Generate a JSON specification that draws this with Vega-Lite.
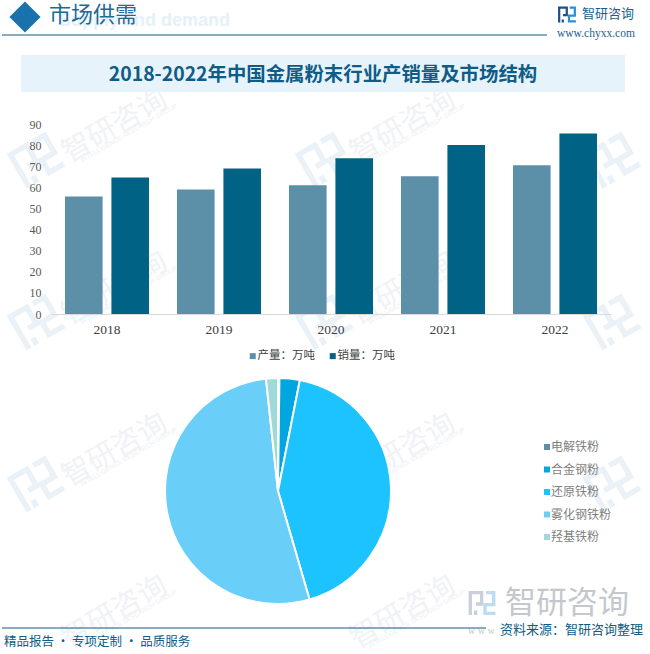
{
  "$schema": "https://vega.github.io/schema/vega-lite/v6.json",
  "background": "white",
  "padding": 0,
  "bounds": "flush",
  "spacing": 0,
  "config": {
    "view": {"stroke": null},
    "font": "Noto Sans CJK SC"
  },
  "datasets": {
    "watermark": [
      {"col": 0, "row": 0}, {"col": 1, "row": 0}, {"col": 2, "row": 0},
      {"col": 0, "row": 1}, {"col": 1, "row": 1}, {"col": 2, "row": 1},
      {"col": 0, "row": 2}, {"col": 1, "row": 2}, {"col": 2, "row": 2}
    ],
    "watermarkText": [
      {"col": 0, "row": 0}, {"col": 1, "row": 0},
      {"col": 0, "row": 1}, {"col": 1, "row": 1},
      {"col": 0, "row": 2}, {"col": 1, "row": 2},
      {"col": 0, "row": 3}, {"col": 1, "row": 3}
    ]
  },
  "vconcat": [
    {
      "width": 650,
      "height": 124,
      "data": {"values": [{"title": "2018-2022年中国金属粉末行业产销量及市场结构"}]},
      "layer": [
        {
          "data": {"name": "watermark"},
          "mark": {"type": "point", "filled": true, "opacity": 1, "color": "#eaf2f8", "angle": -30, "size": 2000, "shape": "M-1 -0.9H0.1V0.2H-0.45V-0.05H-0.15V-0.65H-0.75V0.9H-1ZM-0.6 0.55H-0.35V0.9H-0.6ZM0.3 -0.9H1V0.25H0.35V0.65H1V0.9H0.1V0H0.75V-0.65H0.3Z"},
          "encoding": {
            "x": {"field": "col", "type": "quantitative", "scale": {"domain": [0, 2], "range": [36, 612]}, "axis": null},
            "y": {"field": "row", "type": "quantitative", "scale": {"domain": [0, 2], "range": [160, 484]}, "axis": null}
          }
        },
        {
          "data": {"name": "watermarkText"},
          "mark": {"type": "text", "text": "智研咨询", "fontSize": 29, "angle": -30, "dx": 85, "dy": 10, "color": "#f0f2f6"},
          "encoding": {
            "x": {"field": "col", "type": "quantitative", "scale": {"domain": [0, 2], "range": [36, 612]}, "axis": null},
            "y": {"field": "row", "type": "quantitative", "scale": {"domain": [0, 2], "range": [160, 484]}, "axis": null}
          }
        },
        {
          "data": {"name": "watermarkText"},
          "mark": {"type": "text", "text": "INTELLIGENCE RESEARCH GROUP", "font": "Liberation Sans", "fontSize": 6.5, "angle": -30, "dx": 94, "dy": 23, "color": "#eceff3"},
          "encoding": {
            "x": {"field": "col", "type": "quantitative", "scale": {"domain": [0, 2], "range": [36, 612]}, "axis": null},
            "y": {"field": "row", "type": "quantitative", "scale": {"domain": [0, 2], "range": [160, 484]}, "axis": null}
          }
        },
        {"mark": {"type": "text", "text": "Supply and demand", "font": "Liberation Sans", "fontWeight": "bold", "fontSize": 18, "align": "left", "color": "#e4f1f9"}, "encoding": {"x": {"value": 59}, "y": {"value": 21}}},
        {"mark": {"type": "point", "shape": "diamond", "filled": true, "size": 970, "opacity": 1, "color": "#1a72ad"}, "encoding": {"x": {"value": 25}, "y": {"value": 17}}},
        {"mark": {"type": "text", "text": "市场供需", "fontSize": 22, "align": "left", "color": "#1b6a97"}, "encoding": {"x": {"value": 49}, "y": {"value": 15}}},
        {"mark": {"type": "rule", "color": "#0d5a80", "strokeWidth": 1}, "encoding": {"x": {"value": 2}, "x2": {"value": 547}, "y": {"value": 35}}},
        {"mark": {"type": "point", "filled": true, "opacity": 1, "color": "#1f4e8c", "size": 320, "shape": "M-1 -0.9H0.1V0.2H-0.45V-0.05H-0.15V-0.65H-0.75V0.9H-1ZM-0.6 0.55H-0.35V0.9H-0.6Z"}, "encoding": {"x": {"value": 567}, "y": {"value": 14.5}}},
        {"mark": {"type": "point", "filled": true, "opacity": 1, "color": "#2a8fd6", "size": 320, "shape": "M0.3 -0.9H1V0.25H0.35V0.65H1V0.9H0.1V0H0.75V-0.65H0.3Z"}, "encoding": {"x": {"value": 567}, "y": {"value": 14.5}}},
        {"mark": {"type": "text", "text": "智研咨询", "fontSize": 13, "align": "left", "color": "#1b5f8c"}, "encoding": {"x": {"value": 582}, "y": {"value": 14}}},
        {"mark": {"type": "text", "text": "www.chyxx.com", "font": "Liberation Serif", "fontSize": 11.5, "align": "left", "color": "#1b5f8c"}, "encoding": {"x": {"value": 557}, "y": {"value": 34}}},
        {"mark": {"type": "rect", "color": "#e6f3fb"}, "encoding": {"x": {"value": 21}, "x2": {"value": 625}, "y": {"value": 55}, "y2": {"value": 92}}},
        {"mark": {"type": "text", "fontSize": 19.4, "fontWeight": "bold", "color": "#0f5c86"}, "encoding": {"text": {"field": "title"}, "x": {"value": 323}, "y": {"value": 75}}}
      ],
      "resolve": {"scale": {"x": "shared", "y": "shared"}}
    },
    {
      "width": 650,
      "height": 190,
      "data": {"values": [
        {"year": "2018", "series": "产量：万吨", "value": 55.7},
        {"year": "2018", "series": "销量：万吨", "value": 64.6},
        {"year": "2019", "series": "产量：万吨", "value": 59},
        {"year": "2019", "series": "销量：万吨", "value": 68.9},
        {"year": "2020", "series": "产量：万吨", "value": 61},
        {"year": "2020", "series": "销量：万吨", "value": 73.8},
        {"year": "2021", "series": "产量：万吨", "value": 65.2},
        {"year": "2021", "series": "销量：万吨", "value": 80},
        {"year": "2022", "series": "产量：万吨", "value": 70.5},
        {"year": "2022", "series": "销量：万吨", "value": 85.5}
      ]},
      "mark": {"type": "bar"},
      "encoding": {
        "x": {
          "field": "year", "type": "nominal",
          "scale": {"range": [51, 611], "paddingInner": 0.25, "paddingOuter": 0.125},
          "axis": {"title": null, "labelAngle": 0, "ticks": false, "domainColor": "#d9d9d9", "labelColor": "#404040", "labelFont": "Liberation Serif", "labelFontSize": 13.5, "labelPadding": 8, "grid": false}
        },
        "xOffset": {"field": "series", "type": "nominal", "scale": {"paddingInner": 0.19}},
        "y": {
          "field": "value", "type": "quantitative",
          "scale": {"domain": [0, 90]},
          "axis": {"title": null, "values": [0, 10, 20, 30, 40, 50, 60, 70, 80, 90], "offset": -41, "ticks": false, "domain": false, "grid": false, "labelColor": "#595959", "labelFont": "Liberation Serif", "labelFontSize": 12, "labelPadding": 0}
        },
        "color": {
          "field": "series", "type": "nominal",
          "scale": {"range": ["#5c90a8", "#006285"]},
          "legend": {"title": null, "orient": "none", "legendX": 247, "legendY": 226, "direction": "horizontal", "symbolType": "square", "symbolSize": 36, "symbolStrokeWidth": 0, "labelFontSize": 11.5, "labelColor": "#404040", "labelOffset": -1, "columnPadding": 12}
        }
      }
    },
    {
      "width": 650,
      "height": 51,
      "data": {"values": [{"a": 1}]},
      "mark": {"type": "text", "text": ""}
    },
    {
      "width": 556,
      "height": 252,
      "data": {"values": [
        {"type": "电解铁粉", "order": 1, "share": 0.2},
        {"type": "合金钢粉", "order": 2, "share": 2.9},
        {"type": "还原铁粉", "order": 3, "share": 42.4},
        {"type": "雾化钢铁粉", "order": 4, "share": 52.8},
        {"type": "羟基铁粉", "order": 5, "share": 1.7}
      ]},
      "mark": {"type": "arc", "outerRadius": 113, "stroke": "white", "strokeWidth": 2},
      "encoding": {
        "theta": {"field": "share", "type": "quantitative"},
        "order": {"field": "order"},
        "color": {
          "field": "type", "type": "nominal",
          "sort": ["电解铁粉", "合金钢粉", "还原铁粉", "雾化钢铁粉", "羟基铁粉"],
          "scale": {"domain": ["电解铁粉", "合金钢粉", "还原铁粉", "雾化钢铁粉", "羟基铁粉"], "range": ["#5c90a8", "#00a6e0", "#1cc3ff", "#6acff8", "#9fd9d8"]},
          "legend": {"title": null, "orient": "none", "legendX": 541, "legendY": 76, "symbolType": "square", "symbolSize": 36, "symbolStrokeWidth": 0, "labelFontSize": 12, "labelColor": "#7f7f7f", "labelOffset": -2, "rowPadding": 10.5}
        }
      }
    },
    {
      "width": 650,
      "height": 37,
      "data": {"values": [{"a": 1}]},
      "layer": [
        {"mark": {"type": "point", "filled": true, "opacity": 1, "color": "#c9d0da", "size": 720, "shape": "M-1 -0.9H0.1V0.2H-0.45V-0.05H-0.15V-0.65H-0.75V0.9H-1ZM-0.6 0.55H-0.35V0.9H-0.6Z"}, "encoding": {"x": {"value": 482}, "y": {"value": -14}}},
        {"mark": {"type": "point", "filled": true, "opacity": 1, "color": "#bcdcf2", "size": 720, "shape": "M0.3 -0.9H1V0.25H0.35V0.65H1V0.9H0.1V0H0.75V-0.65H0.3Z"}, "encoding": {"x": {"value": 482}, "y": {"value": -14}}},
        {"mark": {"type": "text", "text": "智研咨询", "fontSize": 31, "align": "left", "color": "#c4c8cc"}, "encoding": {"x": {"value": 505}, "y": {"value": -13}}},
        {"mark": {"type": "text", "text": "w w w", "font": "Liberation Serif", "fontSize": 10, "align": "left", "color": "#c4c8cc"}, "encoding": {"x": {"value": 468}, "y": {"value": 14}}},
        {"mark": {"type": "rule", "color": "#0d5a80", "strokeWidth": 1}, "encoding": {"x": {"value": 2}, "x2": {"value": 486}, "y": {"value": 11}}},
        {"mark": {"type": "text", "text": "资料来源：智研咨询整理", "fontSize": 13, "align": "left", "color": "#0f5c86"}, "encoding": {"x": {"value": 500}, "y": {"value": 13}}},
        {"mark": {"type": "text", "text": "精品报告 · 专项定制 · 品质服务", "fontSize": 12.5, "align": "left", "color": "#0f5c86"}, "encoding": {"x": {"value": 4}, "y": {"value": 25}}}
      ]
    }
  ],
  "resolve": {"scale": {"color": "independent"}}
}
